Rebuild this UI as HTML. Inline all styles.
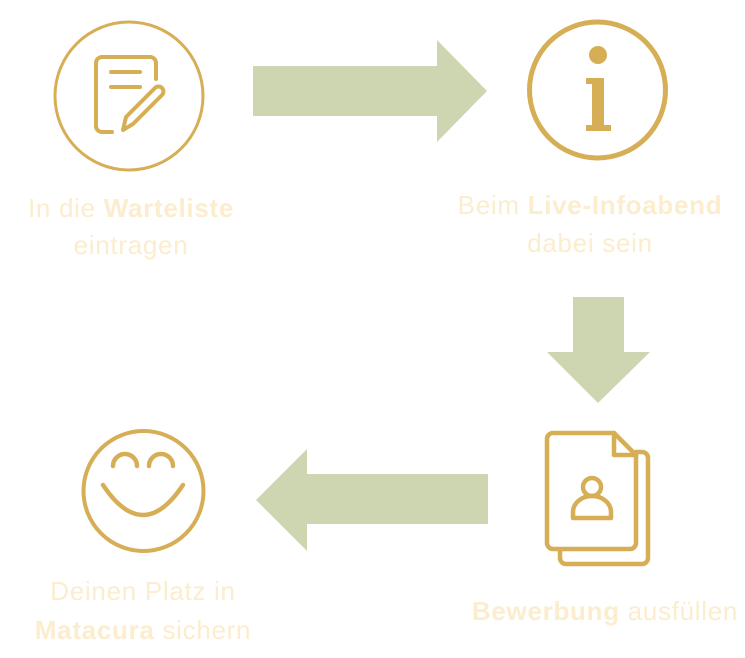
<!DOCTYPE html>
<html><head><meta charset="utf-8"><style>
html,body{margin:0;padding:0;background:#fff;}
body{width:745px;height:658px;position:relative;overflow:hidden;font-family:"Liberation Sans","DejaVu Sans",sans-serif;}
.t{position:absolute;color:#fbedcd;font-size:26px;letter-spacing:0.7px;text-align:center;white-space:nowrap;transform:translateX(-50%);line-height:1;}
b{font-weight:bold;}
</style></head><body>
<svg width="745" height="658" style="position:absolute;left:0;top:0" fill="none" stroke="#d6ae55" stroke-linecap="round" stroke-linejoin="round">
<polygon points="253,66 437,66 437,40 487,91 437,142 437,116 253,116" fill="#cdd6b0" stroke="none"/>
<polygon points="573,297 624,297 624,352 650,352 598,403 547,352 573,352" fill="#cdd6b0" stroke="none"/>
<polygon points="488,474 307,474 307,449 256,500 307,551 307,524 488,524" fill="#cdd6b0" stroke="none"/>
<circle cx="129" cy="96" r="74" stroke-width="3"/>
<path d="M112,132 H102 a6,6 0 0 1 -6,-6 V63 a6,6 0 0 1 6,-6 H150 a6,6 0 0 1 6,6 V79" stroke-width="4"/>
<path d="M111,72 H140 M111,87 H140" stroke-width="4"/>
<path d="M123,130 L126,117 L155,88 a4,4 0 0 1 7,7 L133,124 Z" stroke-width="4"/>
<circle cx="597.5" cy="90" r="68" stroke-width="5"/>
<circle cx="598" cy="55" r="9" fill="#d6ae55" stroke="none"/>
<path d="M586,78 H604 V125 H611 V131 H586 V125 H592 V84 H586 Z" fill="#d6ae55" stroke="none"/>
<path d="M636,452 H642 a6,6 0 0 1 6,6 V558 a6,6 0 0 1 -6,6 H566 a6,6 0 0 1 -6,-6 V550" stroke-width="4.5"/>
<path d="M553,433 H614 L636,455 V543 a6,6 0 0 1 -6,6 H553 a6,6 0 0 1 -6,-6 V439 a6,6 0 0 1 6,-6 Z" stroke-width="4.5"/>
<path d="M614,433 V455 H636" stroke-width="4.5"/>
<circle cx="592" cy="487" r="9" stroke-width="4.5"/>
<path d="M573,518 V512 a19,16 0 0 1 38,0 V518 Z" stroke-width="4.5"/>
<circle cx="143.5" cy="491" r="60" stroke-width="4"/>
<path d="M113,466 a12,12 0 0 1 24,0 M149,466 a12,12 0 0 1 24,0" stroke-width="4.5"/>
<path d="M103,485 Q143,545 183,485" stroke-width="4.5"/>
</svg>
<div class="t" style="left:131px;top:195px">In die <b>Warteliste</b></div>
<div class="t" style="left:131px;top:232px">eintragen</div>
<div class="t" style="left:590px;top:192px">Beim <b>Live-Infoabend</b></div>
<div class="t" style="left:590px;top:230px">dabei sein</div>
<div class="t" style="left:605px;top:598px"><b>Bewerbung</b> ausfüllen</div>
<div class="t" style="left:143px;top:578px">Deinen Platz in</div>
<div class="t" style="left:143px;top:617px"><b>Matacura</b> sichern</div>
</body></html>
